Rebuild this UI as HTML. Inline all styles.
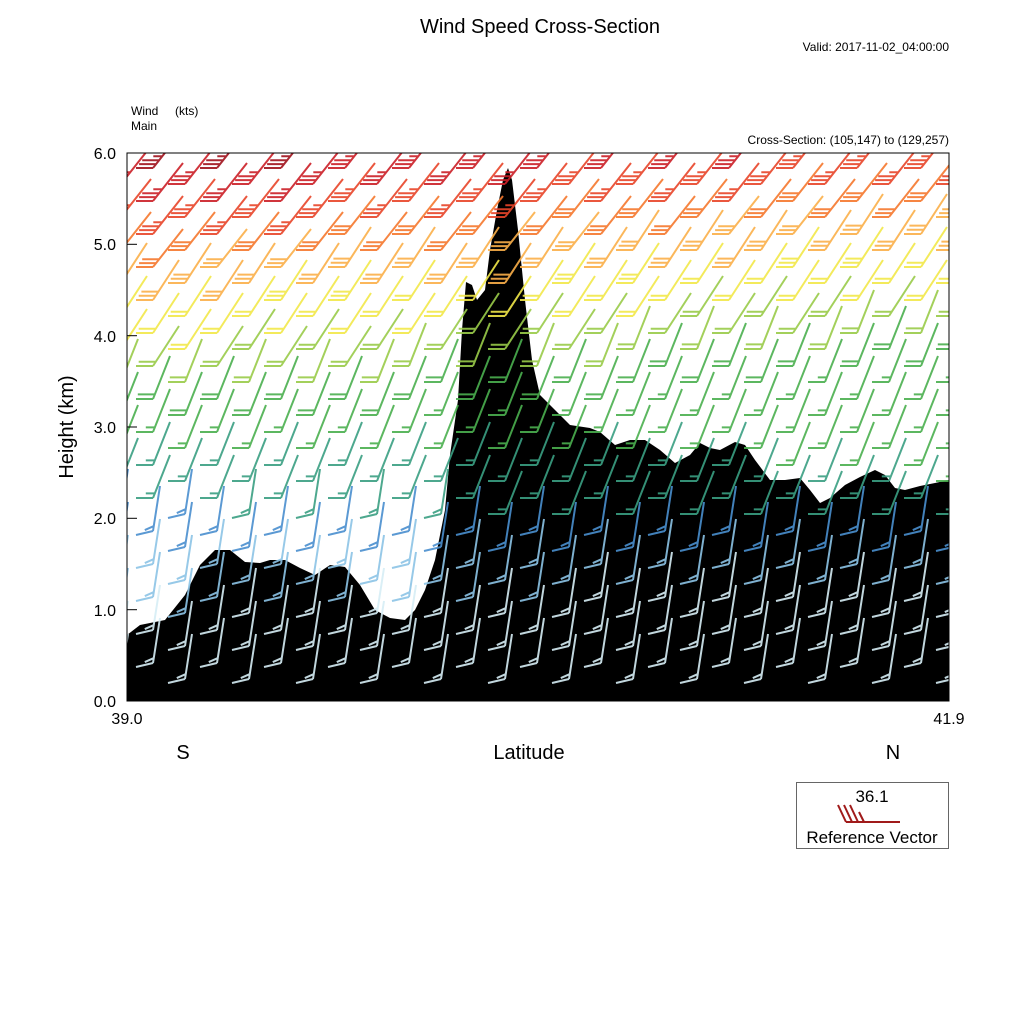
<!DOCTYPE html>
<html><head><meta charset="utf-8"><style>
html,body{margin:0;padding:0;background:#fff;}
svg text{font-family:"Liberation Sans",sans-serif;}
</style></head><body>
<svg id="s" width="1024" height="1024" xmlns="http://www.w3.org/2000/svg">
<rect width="1024" height="1024" fill="#fff"/>
<defs><clipPath id="c"><rect x="127" y="153" width="822" height="548"/></clipPath></defs>
<polygon id="terr" fill="#000" points="127,635 140,625 165,620 185,595 200,565 215,550 230,550 245,562 260,563 270,560 285,560 300,568 315,575 330,565 345,567 360,585 375,610 390,618 405,620 415,610 425,590 435,560 445,510 450,455 458,400 462,330 466,282 472,285 477,300 485,290 490,250 497,210 503,180 508,168 512,180 518,230 525,300 532,360 540,395 555,410 570,425 590,428 600,432 615,445 630,440 645,440 660,450 675,463 690,455 700,443 710,448 720,450 735,442 745,445 755,460 770,480 785,480 800,478 810,490 820,503 830,498 845,485 860,477 875,470 885,475 895,488 905,490 920,486 935,483 949,480 949,701 127,701"/>
<g id="barbs" clip-path="url(#c)" fill="none" stroke-width="2" stroke-linecap="butt" opacity="0.9"></g>
<rect x="127" y="153" width="822" height="548" fill="none" stroke="#000" stroke-width="1"/>
<g stroke="#000" stroke-width="1">
<line x1="127" y1="153" x2="137" y2="153"/><line x1="127" y1="244.3" x2="137" y2="244.3"/><line x1="127" y1="335.7" x2="137" y2="335.7"/><line x1="127" y1="427" x2="137" y2="427"/><line x1="127" y1="518.3" x2="137" y2="518.3"/><line x1="127" y1="609.7" x2="137" y2="609.7"/>
</g>
<g font-size="16" text-anchor="end">
<text x="116" y="159">6.0</text><text x="116" y="250">5.0</text><text x="116" y="342">4.0</text><text x="116" y="433">3.0</text><text x="116" y="524">2.0</text><text x="116" y="616">1.0</text><text x="116" y="707">0.0</text>
</g>
<text x="127" y="724" font-size="16" text-anchor="middle">39.0</text>
<text x="949" y="724" font-size="16" text-anchor="middle">41.9</text>
<text x="183" y="759" font-size="20" text-anchor="middle">S</text>
<text x="529" y="759" font-size="20" text-anchor="middle">Latitude</text>
<text x="893" y="759" font-size="20" text-anchor="middle">N</text>
<text transform="translate(73,427) rotate(-90)" font-size="20" text-anchor="middle">Height (km)</text>
<text x="540" y="33" font-size="20" text-anchor="middle">Wind Speed Cross-Section</text>
<text x="949" y="51" font-size="12" text-anchor="end">Valid: 2017-11-02_04:00:00</text>
<text x="131" y="115" font-size="12">Wind</text><text x="175" y="115" font-size="12">(kts)</text>
<text x="131" y="130" font-size="12">Main</text>
<text x="949" y="144" font-size="12" text-anchor="end">Cross-Section: (105,147) to (129,257)</text>
<rect x="796.5" y="782.5" width="152" height="66" fill="none" stroke="#666" stroke-width="1"/>
<text x="872" y="802" font-size="17" text-anchor="middle">36.1</text>
<text x="872" y="843" font-size="17" text-anchor="middle">Reference Vector</text>
<g stroke="#a01a1a" stroke-width="2">
<line x1="846" y1="822" x2="900" y2="822"/>
<line x1="846" y1="822" x2="838" y2="805"/><line x1="852" y1="822" x2="844" y2="805"/><line x1="858" y1="822" x2="850" y2="805"/><line x1="864" y1="822" x2="859" y2="812"/>
</g>
</svg>
<script>
var g=document.getElementById('barbs');
var pal=[[0.9,'#d6eef6'],[1.5,'#8cc4e6'],[2.1,'#4a8fcf'],[2.7,'#3a9f82'],[3.3,'#4bb04f'],[3.8,'#9acb4a'],[4.3,'#f2e84a'],[4.7,'#fbb04a'],[5.0,'#f6782e'],[5.35,'#e8452a'],[5.7,'#cc2028'],[99,'#a0121c']];
function col(k){for(var i=0;i<pal.length;i++)if(k<pal[i][0])return pal[i][1];return '#a0121c';}
var out='';
for(var i=0;i<27;i++){
 var x=121+i*32;
 for(var j=0;j<19;j++){
  var y=712-j*33-(i%2)*16;
  if(y<140||y>695)continue;
  var h=(701-y)/548*6;
  var t=(x-127)/822;
  var tri=Math.max(0,1-Math.abs(h-2.2)/1.2);
  var k=h-0.6*t+t*1.1*tri;
  var c=col(k);
  var dx,dy;
  if(k>4.6){dx=30;dy=-38;}else if(k>3.5){dx=26;dy=-40;}else if(k>2.2){dx=17;dy=-43;}else{dx=7;dy=-45;}
  var n= k>5?3.5:(k>4.2?3:(k>3?2:1.5));
  var d='M'+x+' '+y+'l'+dx+' '+dy;
  var L=Math.sqrt(dx*dx+dy*dy),ux=dx/L,uy=dy/L;
  for(var f=0;f<Math.ceil(n);f++){
   var px=x+ux*f*5,py=y+uy*f*5;
   var fl=(f+1>n)?9:17;
   d+='M'+px.toFixed(1)+' '+py.toFixed(1)+'l'+(-fl)+' '+(k>2.2?0:4);
  }
  out+='<path d="'+d+'" stroke="'+c+'"/>';
 }
}
g.innerHTML=out;
</script>
</body></html>
